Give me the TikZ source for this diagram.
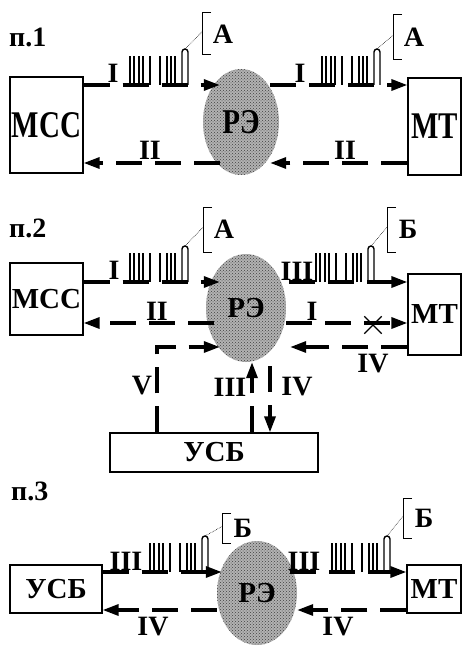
\documentclass[tikz,border=0pt]{standalone}
\usepackage{fontspec}
\setmainfont{Liberation Serif}
\usetikzlibrary{arrows.meta,shapes.geometric,shapes.misc,patterns}

\tikzset{
  blok/.style={draw, line width=1.3pt, inner sep=0pt, font=\fontsize{29}{29}\selectfont\bfseries},
  re/.style={ellipse, inner sep=0pt, fill=black!30,
    postaction={pattern=crosshatch dots, pattern color=black!75},
    font=\fontsize{29}{29}\selectfont\bfseries},
  sig/.style={line width=3.2pt, dash pattern=on 26pt off 13pt},
  tip/.style={-{Triangle[length=16pt,width=11pt]}},
  pulse/.style={line width=1.4pt},
  num/.style={inner sep=0pt, font=\fontsize{28}{28}\selectfont\bfseries},
  brk/.style={line width=1pt},
  lead/.style={line width=0.6pt, densely dotted},
}

\begin{document}
\begin{tikzpicture}[x=1pt, y=-1pt]
  \useasboundingbox (0,0) rectangle (463,647);

  % rails
  \coordinate (r1a) at (0,85);
  \coordinate (r1b) at (0,163);
  \coordinate (r2a) at (0,282);
  \coordinate (r2b) at (0,323);
  \coordinate (r2c) at (0,347);
  \coordinate (r3a) at (0,572);
  \coordinate (r3b) at (0,610);
  \coordinate (v2) at (157,347);
  \coordinate (c3) at (252,0);
  \coordinate (c4) at (270,0);

  % ---- n.1
  \node[num, anchor=west] at (9,37) (p1) {п.1};
  \node[blok, minimum width=73pt, minimum height=96pt] at (46.5,125) (mss1) {\scalebox{1}[1.3]{МСС}};
  \node[blok, minimum width=53pt, minimum height=97pt] at (434.5,126.5) (mt1) {\scalebox{1}[1.3]{МТ}};
  \node[re, minimum width=76pt, minimum height=106pt] at (241,122) (re1) {\scalebox{1}[1.2]{РЭ}};

  \draw[sig,tip,shorten >=-17pt] (mss1.east |- r1a) -- (re1.west |- r1a);
  \draw[sig,tip,shorten <=-9pt] (re1.east |- r1a) -- (mt1.west |- r1a);
  \draw[sig,tip,shorten >=-9pt] (mt1.west |- r1b) -- (re1.east |- r1b);
  \draw[sig,tip,shorten <=-17pt] (re1.west |- r1b) -- (mss1.east |- r1b);

  \node[num, anchor=south] at (113,83) (l1a) {I};
  \node[num, anchor=south] at (300,83) (l1b) {I};
  \node[num, anchor=south] at (150,160) (l1c) {II};
  \node[num, anchor=south] at (345,160) (l1d) {II};

  % ---- n.2
  \node[num, anchor=west] at (9,228) (p2) {п.2};
  \node[blok, minimum width=73pt, minimum height=72pt] at (46.5,299) (mss2) {МСС};
  \node[blok, minimum width=53pt, minimum height=81pt] at (434.5,314.5) (mt2) {МТ};
  \node[blok, minimum width=208pt, minimum height=39pt] at (214,452.5) (usb2) {УСБ};
  \node[re, minimum width=80pt, minimum height=108pt] at (246,308) (re2) {РЭ};

  \draw[sig,tip,shorten >=-14pt] (mss2.east |- r2a) -- (re2.west |- r2a);
  \draw[sig,tip,shorten <=3pt] (re2.east |- r2a) -- (mt2.west |- r2a);
  \draw[sig,tip,shorten <=-8pt] (re2.west |- r2b) -- (mss2.east |- r2b);
  \draw[sig,tip] (re2.east |- r2b) -- (mt2.west |- r2b);
  \draw[sig,tip,shorten >=-14pt] (usb2.north -| v2) -- (v2) -- (re2.west |- r2c);
  \draw[sig,tip,shorten >=4pt] (mt2.west |- r2c) -- (re2.east |- r2c);
  \draw[sig,tip] (usb2.north -| c3) -- (re2.south -| c3);
  \draw[sig,tip,shorten <=4pt] (re2.south -| c4) -- (usb2.north -| c4);
  \node[cross out, draw, line width=1.4pt, minimum size=16pt, inner sep=0pt] at (373,325) (x2) {};

  \node[num, anchor=south] at (114,280) (l2a) {I};
  \node[num, anchor=south] at (297,281) (l2b) {III};
  \node[num, anchor=south] at (157,321) (l2c) {II};
  \node[num, anchor=south] at (312,321) (l2d) {I};
  \node[num] at (373,364) (l2e) {IV};
  \node[num] at (142,386) (l2f) {V};
  \node[num] at (230,387) (l2g) {III};
  \node[num] at (297,387) (l2h) {IV};

  % ---- n.3
  \node[num, anchor=west] at (11,491) (p3) {п.3};
  \node[blok, minimum width=92pt, minimum height=48pt] at (56,589) (usb3) {УСБ};
  \node[blok, minimum width=54pt, minimum height=48pt] at (434,589) (mt3) {МТ};
  \node[re, minimum width=80pt, minimum height=104pt] at (257,593) (re3) {РЭ};

  \draw[sig,tip,shorten >=-5pt] (usb3.east |- r3a) -- (re3.west |- r3a);
  \draw[sig,tip,shorten <=-7pt] (re3.east |- r3a) -- (mt3.west |- r3a);
  \draw[sig,tip] (mt3.west |- r3b) -- (re3.east |- r3b);
  \draw[sig,tip] (re3.west |- r3b) -- (usb3.east |- r3b);

  \node[num, anchor=south] at (126,571) (l3a) {III};
  \node[num, anchor=south] at (304,571) (l3b) {III};
  \node[num] at (153,627) (l3c) {IV};
  \node[num] at (338,627) (l3d) {IV};

  % pulse trains and their callouts
  \foreach \tx/\ty/\bx/\yt/\yb/\lt [count=\k] in
    {128/85/202/13/55/А, 320/85/393/15/60/А,
     128/282/203/207/252/А, 314/282/387/207/252/Б,
     148/572/222/513/543/Б, 330/572/403/498/538/Б}{
    \foreach \dx in {2,6,11,15,22,32,39,43,47}
      \draw[pulse] (\tx+\dx,\ty) -- ++(0,-29);
    \draw[pulse] (\tx+54,\ty) -- ++(0,-33) arc[start angle=180, end angle=360, radius=3] -- ++(0,33);
    \draw[brk] (\bx+9,\yt) -- (\bx,\yt) -- (\bx,\yb) -- (\bx+9,\yb);
    \node[num] at (\bx+21,{(\yt+\yb)/2}) (cl\k) {\lt};
    \draw[lead] (\tx+57,\ty-36) -- (\bx,{\yt+(\yb-\yt)*0.45});
  }
\end{tikzpicture}
\end{document}
